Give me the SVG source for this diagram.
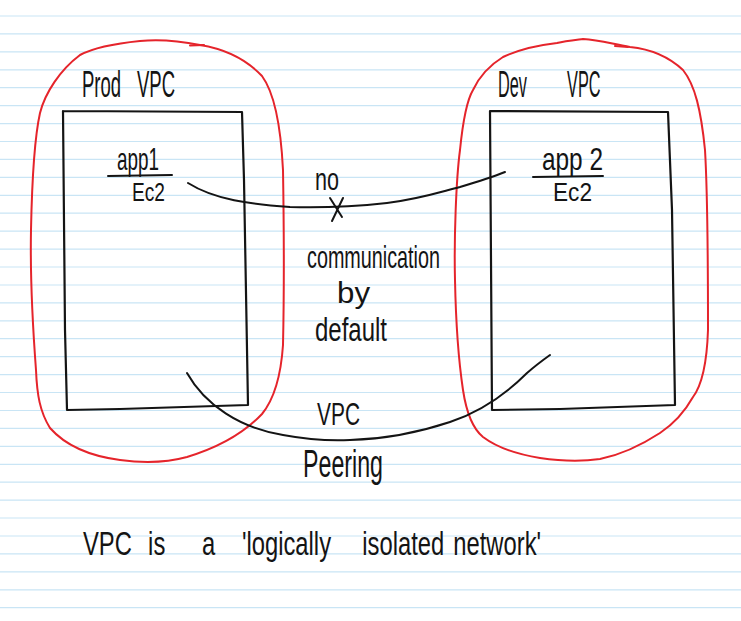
<svg xmlns="http://www.w3.org/2000/svg" width="741" height="621" viewBox="0 0 741 621">
<style>
.rule{fill:none;stroke:#c9e5f5;stroke-width:1.2}
.blob{fill:none;stroke:#e5242b;stroke-width:2;stroke-linecap:round;stroke-linejoin:round}
.box{fill:none;stroke:#141414;stroke-width:2.2;stroke-linecap:round;stroke-linejoin:round}
.ink{fill:none;stroke:#141414;stroke-width:2;stroke-linecap:round;stroke-linejoin:round}
.hw{font-family:"Liberation Sans","DejaVu Sans",sans-serif;fill:#141414}
</style>
<rect width="741" height="621" fill="#ffffff"/>
<path class="rule" d="M0,16H741M0,33.9H741M0,51.9H741M0,69.8H741M0,87.7H741M0,105.7H741M0,123.6H741M0,141.5H741M0,159.4H741M0,177.4H741M0,195.3H741M0,213.2H741M0,231.2H741M0,249.1H741M0,267H741M0,285H741M0,302.9H741M0,320.8H741M0,338.7H741M0,356.7H741M0,374.6H741M0,392.5H741M0,410.5H741M0,428.4H741M0,446.3H741M0,464.3H741M0,482.2H741M0,500.1H741M0,518H741M0,536H741M0,553.9H741M0,571.8H741M0,589.8H741M0,607.7H741"/>

<g id="prod-vpc">
<path class="blob" d="M140,41 C160,39 180,41 200,45 C225,49 245,58 262,76 C276,95 281,130 283,170 C284,230 284,300 283,345 C281,375 275,398 262,414 C245,432 220,447 187,457 C165,463 143,463 120,460 C90,456 65,445 50,428 C40,412 37,395 36,370 C33,330 30,280 31,230 C32,180 34,140 40,113 C45,93 60,70 80,55 C97,46 120,43 140,41 Z"/>
<path class="blob" d="M190,45.5 L204,45"/>
<path class="box" d="M63,111 L242,112 L244,180 L248,405 L120,409 L67,410 L65,330 L63,111"/>
<text class="hw" font-size="37" transform="translate(82,97) scale(0.5,1)"><tspan x="0">Prod</tspan> <tspan x="110">VPC</tspan></text>
</g>

<g id="app1">
<text class="hw" font-size="32" x="117" y="170" textLength="42" lengthAdjust="spacingAndGlyphs">app1</text>
<path class="ink" d="M108,176 L172,175"/>
<text class="hw" font-size="26" x="132" y="201" textLength="33" lengthAdjust="spacingAndGlyphs">Ec2</text>
</g>

<g id="dev-vpc">
<path class="blob" d="M583,39 C600,40 612,44 630,47 C650,49 668,56 683,70 C695,85 701,110 705,150 C708,200 708,280 708,330 C707,360 702,385 693,397 C684,413 672,425 660,433 C640,446 620,455 600,459 C580,462 560,461 540,458 C515,454 495,446 483,437 C472,428 466,410 463,390 C460,370 456,330 455,280 C454,240 456,180 460,150 C463,120 467,100 473,90 C480,75 490,65 503,57 C520,49 540,45 557,43 C565,41 575,40 583,39 Z"/>
<path class="blob" d="M615,46 L628,47"/>
<path class="box" d="M490,111 L668,112 L672,210 L675,405 L560,409 L492,410 L490,111"/>
<text class="hw" font-size="37" transform="translate(498,97) scale(0.44,1)"><tspan x="0">Dev</tspan> <tspan x="157">VPC</tspan></text>
</g>

<g id="app2">
<text class="hw" font-size="32" x="542" y="170" textLength="61" lengthAdjust="spacingAndGlyphs">app 2</text>
<path class="ink" d="M533,177 L603,176"/>
<text class="hw" font-size="26" x="553" y="201" textLength="39" lengthAdjust="spacingAndGlyphs">Ec2</text>
</g>

<g id="connectors">
<g id="no-communication">
<path class="ink" d="M188,183 C215,200 250,204 290,207 C320,208 350,207 387,203 C420,199 440,192 460,187 C480,181 495,176 505,172"/>
<path class="ink" d="M330,198 L342,217 M343,198 L332,221"/>
<text class="hw" font-size="32" x="315" y="190" textLength="24" lengthAdjust="spacingAndGlyphs">no</text>
<text class="hw" font-size="32" x="307" y="268" textLength="133" lengthAdjust="spacingAndGlyphs">communication</text>
<text class="hw" font-size="30" x="337" y="303" textLength="33" lengthAdjust="spacingAndGlyphs">by</text>
<text class="hw" font-size="34" x="315" y="341" textLength="72" lengthAdjust="spacingAndGlyphs">default</text>
</g>
<g id="vpc-peering">
<path class="ink" d="M187,373 C205,405 240,428 283,435 C310,440 330,441 350,440 C390,439 420,432 450,422 C480,412 505,395 527,373 C535,366 543,360 550,355"/>
<text class="hw" font-size="32" x="317" y="425" textLength="43" lengthAdjust="spacingAndGlyphs">VPC</text>
<text class="hw" font-size="38" x="303" y="477" textLength="80" lengthAdjust="spacingAndGlyphs">Peering</text>
</g>
</g>

<text id="note" class="hw" font-size="34" transform="translate(83,555) scale(0.7,1)"><tspan x="0">VPC</tspan> <tspan x="93">is</tspan> <tspan x="170">a</tspan> <tspan x="227">'logically</tspan> <tspan x="399">isolated</tspan> <tspan x="529">network'</tspan></text>
</svg>
